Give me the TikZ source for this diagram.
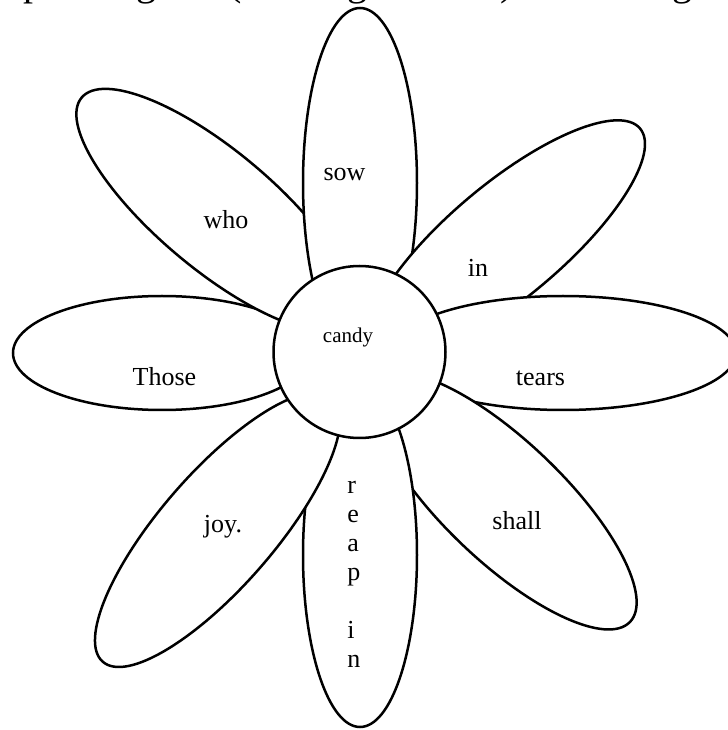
\documentclass[tikz,border=0pt]{standalone}
\usepackage{fontspec}
\setmainfont{Liberation Serif}
\usetikzlibrary{shapes.geometric}

\begin{document}
\begin{tikzpicture}[x=0.5pt, y=0.5pt,
  petal/.style={ellipse, draw, fill=white, line width=1.25pt, inner sep=0pt, minimum width=175pt, minimum height=57pt},
  word/.style={font=\fontsize{13}{15}\selectfont, anchor=base, inner sep=0pt},
  letter/.style={word, anchor=base west},
  head/.style={font=\fontsize{20}{24}\selectfont, anchor=base, inner sep=0pt}]

\useasboundingbox (0,0) rectangle (728,730);
\clip (0,0) rectangle (728,730);

%heading, only its lower edge shows
  \node[head] (h1) at (34,734) {p};
  \node[head] (h2) at (146,734) {g};
  \node[head] (h3) at (235,734) {(};
  \node[head] (h4) at (357,734) {g};
  \node[head] (h5) at (507,734) {)};
  \node[head] (h6) at (682,734) {g};

%petals, back to front
  \node[petal, minimum width=149pt] (those) at (162,377) {};
  \node[petal, minimum height=59pt, rotate=140] (who) at (215.7,519.9) {};
  \node[petal, rotate=90] (sow) at (360,547) {};
  \node[petal, rotate=40] (in) at (506,489) {};
  \node[petal, minimum width=173pt] (tears) at (563,377) {};
  \node[petal, minimum height=60pt, rotate=-43.7] (shall) at (503.5,229) {};
  \node[petal, minimum width=172pt, rotate=90] (reap) at (360,175) {};
  \node[petal, rotate=229] (joy) at (217.6,200.3) {};

%centre
  \node[circle, draw, fill=white, line width=1.25pt, inner sep=0pt, minimum size=86pt] (centre) at (359.5,378) {};
  \node[word, font=\fontsize{10.5}{12}\selectfont] (w-candy) at (348,387) {candy};

%words
  \node[word] (w-sow) at (344.5,549) {sow};
  \node[word] (w-who) at (226,501) {who};
  \node[word] (w-in) at (478,453) {in};
  \node[word] (w-those) at (164.5,344) {Those};
  \node[word] (w-tears) at (540.5,344) {tears};
  \node[word] (w-joy) at (223,198) {joy.};
  \node[word] (w-shall) at (517,200) {shall};

%reap in, one letter a line
  \node[letter] (r1) at (347,236) {r};
  \node[letter] (r2) at (347,207) {e};
  \node[letter] (r3) at (347,178) {a};
  \node[letter] (r4) at (347,149) {p};
  \node[letter] (r5) at (347,91) {i};
  \node[letter] (r6) at (347,62) {n};
\end{tikzpicture}
\end{document}
